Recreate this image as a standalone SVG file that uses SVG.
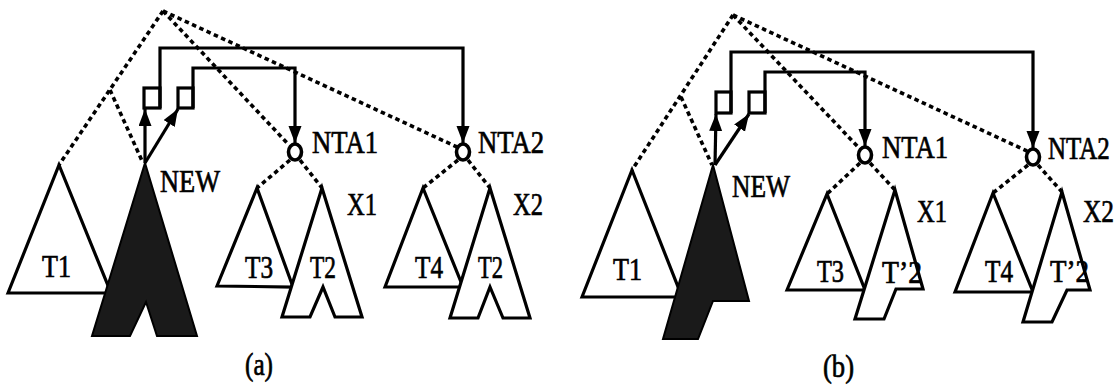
<svg xmlns="http://www.w3.org/2000/svg" width="1120" height="389" viewBox="0 0 1120 389">
  <style>
    .tree { fill: #fff; stroke: #000; stroke-width: 3.2; stroke-linejoin: miter; }
    .new { fill: #1a1a1a; stroke: #000; stroke-width: 2; stroke-linejoin: miter; }
    .dot { fill: none; stroke: #000; stroke-width: 3.6; stroke-dasharray: 4.5 3.5; }
    .link { fill: none; stroke: #000; stroke-width: 3.2; }
    .box { fill: #fff; stroke: #000; stroke-width: 3.2; }
    .nta { fill: none; stroke: #000; stroke-width: 3.6; }
    text { font-family: "Liberation Serif", "Times New Roman", serif; font-size: 32px; fill: #000; stroke: #000; stroke-width: 0.7; }
    text.tall { font-size: 26px; stroke-width: 0.6; }
  </style>
  <defs>
    <marker id="arrow" markerUnits="userSpaceOnUse" markerWidth="14" markerHeight="18" refX="17" refY="6.5" orient="auto">
      <path d="M0,0 L17,6.5 L0,13 Z" fill="#000"/>
    </marker>
  </defs>

  <!-- ===== panel (a) ===== -->
  <g id="a-trees">
    <g id="a-T1">
      <polygon class="tree" points="8,293 59,165 111,293"/>
      <text x="42" y="277" textLength="29" lengthAdjust="spacingAndGlyphs">T1</text>
    </g>
    <g id="a-NEW">
      <polygon class="new" points="145,163 197,336 157,336 146,302 130,336 92,336"/>
      <text x="160" y="192" textLength="60" lengthAdjust="spacingAndGlyphs">NEW</text>
    </g>
    <g id="a-T3">
      <polygon class="tree" points="217,286 257,188 293,287"/>
      <text x="245" y="278" textLength="28" lengthAdjust="spacingAndGlyphs">T3</text>
    </g>
    <g id="a-X1">
      <polygon class="tree" points="322,188 362,317 335,317 323,287 310,317 282,317"/>
      <text x="310" y="278" textLength="26" lengthAdjust="spacingAndGlyphs">T2</text>
      <text x="347" y="215" textLength="30" lengthAdjust="spacingAndGlyphs">X1</text>
    </g>
    <g id="a-T4">
      <polygon class="tree" points="385,287 423,188 463,287"/>
      <text x="415" y="278" textLength="28" lengthAdjust="spacingAndGlyphs">T4</text>
    </g>
    <g id="a-X2">
      <polygon class="tree" points="490,188 530,318 503,318 490,287 478,318 450,318"/>
      <text x="478" y="278" textLength="25" lengthAdjust="spacingAndGlyphs">T2</text>
      <text x="513" y="215" textLength="30" lengthAdjust="spacingAndGlyphs">X2</text>
    </g>
    <g id="a-NTA1">
      <ellipse class="nta" cx="295" cy="152" rx="6.5" ry="8"/>
      <text x="312" y="153" textLength="66" lengthAdjust="spacingAndGlyphs">NTA1</text>
    </g>
    <g id="a-NTA2">
      <ellipse class="nta" cx="463" cy="152" rx="6.5" ry="8"/>
      <text x="478" y="153" textLength="66" lengthAdjust="spacingAndGlyphs">NTA2</text>
    </g>
    <g id="a-boxes">
      <rect class="box" x="144" y="88" width="16" height="20"/>
      <rect class="box" x="178" y="88" width="15" height="20"/>
    </g>
    <text id="a-caption" x="245" y="375" textLength="28" lengthAdjust="spacingAndGlyphs">(a)</text>
  </g>

  <g id="a-connectors">
    <!-- dotted tree edges -->
    <path class="dot" d="M163,11 L59,165"/>
    <path class="dot" d="M110,90 L143,163"/>
    <path class="dot" d="M163,11 L289,145"/>
    <path class="dot" d="M163,11 L457,147"/>
    <path class="dot" d="M290,160 L257,188"/>
    <path class="dot" d="M300,160 L322,188"/>
    <path class="dot" d="M458,160 L423,188"/>
    <path class="dot" d="M468,160 L490,188"/>
    <!-- pointer links -->
    <path class="link" d="M160,108 V48 H463 V143" marker-end="url(#arrow)"/>
    <path class="link" d="M193,108 V68 H295 V143" marker-end="url(#arrow)"/>
    <path class="link" d="M145,163 L145,109" marker-end="url(#arrow)"/>
    <path class="link" d="M145,163 L178,109" marker-end="url(#arrow)"/>
  </g>

  <!-- ===== panel (b) ===== -->
  <g id="b-trees">
    <g id="b-T1">
      <polygon class="tree" points="582,297 632,170 682,297"/>
      <text x="613" y="280" textLength="29" lengthAdjust="spacingAndGlyphs">T1</text>
    </g>
    <g id="b-NEW">
      <polygon class="new" points="713,165 749,301 713,301 698,339 663,339"/>
      <text x="732" y="197" textLength="58" lengthAdjust="spacingAndGlyphs">NEW</text>
    </g>
    <g id="b-T3">
      <polygon class="tree" points="787,290 827,194 865,290"/>
      <text x="817" y="282" textLength="27" lengthAdjust="spacingAndGlyphs">T3</text>
    </g>
    <g id="b-X1">
      <polygon class="tree" points="895,190 923,289 896,289 884,319 855,319"/>
      <text x="882" y="283" textLength="40" lengthAdjust="spacingAndGlyphs">T’2</text>
      <text x="917" y="222" textLength="30" lengthAdjust="spacingAndGlyphs">X1</text>
    </g>
    <g id="b-T4">
      <polygon class="tree" points="955,292 993,193 1033,292"/>
      <text x="985" y="282" textLength="28" lengthAdjust="spacingAndGlyphs">T4</text>
    </g>
    <g id="b-X2">
      <polygon class="tree" points="1062,192 1090,290 1067,290 1052,322 1023,322"/>
      <text x="1050" y="282" textLength="39" lengthAdjust="spacingAndGlyphs">T’2</text>
      <text x="1083" y="222" textLength="31" lengthAdjust="spacingAndGlyphs">X2</text>
    </g>
    <g id="b-NTA1">
      <ellipse class="nta" cx="865" cy="155" rx="6.5" ry="8"/>
      <text x="882" y="158" textLength="66" lengthAdjust="spacingAndGlyphs">NTA1</text>
    </g>
    <g id="b-NTA2">
      <ellipse class="nta" cx="1033" cy="157" rx="6.5" ry="8"/>
      <!-- narrower face, stretched vertically so it stays inside the right edge -->
      <text class="tall" transform="translate(1048,159) scale(0.96,1.22)">NTA2</text>
    </g>
    <g id="b-boxes">
      <rect class="box" x="716" y="92" width="15" height="21"/>
      <rect class="box" x="749" y="92" width="16" height="21"/>
    </g>
    <text id="b-caption" x="823" y="377" textLength="31" lengthAdjust="spacingAndGlyphs">(b)</text>
  </g>

  <g id="b-connectors">
    <path class="dot" d="M733,15 L632,170"/>
    <path class="dot" d="M681,97 L712,165"/>
    <path class="dot" d="M733,15 L859,148"/>
    <path class="dot" d="M733,15 L1027,151"/>
    <path class="dot" d="M860,163 L827,194"/>
    <path class="dot" d="M870,163 L895,190"/>
    <path class="dot" d="M1028,165 L993,193"/>
    <path class="dot" d="M1038,165 L1062,192"/>
    <path class="link" d="M731,113 V52 H1033 V148" marker-end="url(#arrow)"/>
    <path class="link" d="M765,113 V72 H865 V146" marker-end="url(#arrow)"/>
    <path class="link" d="M715,165 L716,114" marker-end="url(#arrow)"/>
    <path class="link" d="M715,165 L749,114" marker-end="url(#arrow)"/>
  </g>
</svg>
